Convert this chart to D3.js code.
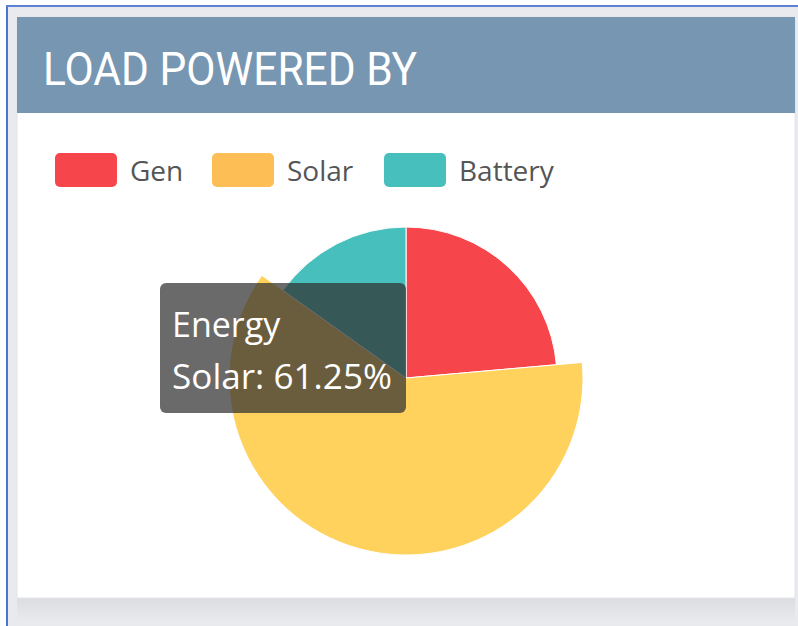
<!DOCTYPE html>
<html>
<head>
<meta charset="utf-8">
<script src="https://cdn.jsdelivr.net/npm/d3@7/dist/d3.min.js"></script>
<style>
  html, body { margin: 0; padding: 0; background: #ffffff; }
  svg { display: block; }
</style>
</head>
<body>
<svg id="chart" width="798" height="626"></svg>
<script>
// Share of load supplied by each source (percent)
const categories = ["Gen", "Solar", "Battery"];
const shares = [23.6, 61.25, 15.15];
const sliceColors = ["#f7464b", "#ffd15d", "#47bfbc"];
const legendColors = ["#f7464b", "#fcbe55", "#47bfbc"];
const panelTitle = "LOAD POWERED BY";
const datasetLabel = "Energy";
const activeIndex = 1; // slice under the pointer

const svg = d3.select("#chart");
const W = 798, H = 626;

// page frame
svg.append("rect").attr("x", 0).attr("y", 0).attr("width", W).attr("height", H).attr("fill", "#ffffff");
svg.append("rect").attr("x", 7).attr("y", 6).attr("width", W - 7).attr("height", H - 6).attr("fill", "#e9eaee");
svg.append("rect").attr("x", 6).attr("y", 5).attr("width", 2).attr("height", H - 5).attr("fill", "#4a73d2");
svg.append("rect").attr("x", 6).attr("y", 5).attr("width", W - 6).attr("height", 2).attr("fill", "#5b80d6");

// card shadow
const defs = svg.append("defs");
const sg = defs.append("linearGradient").attr("id", "shadow").attr("x1", 0).attr("y1", 0).attr("x2", 0).attr("y2", 1);
sg.append("stop").attr("offset", "0%").attr("stop-color", "#dcdde1");
sg.append("stop").attr("offset", "100%").attr("stop-color", "#e9eaee");
svg.append("rect").attr("x", 17).attr("y", 598).attr("width", 778).attr("height", 24).attr("fill", "url(#shadow)");

// card
const card = { x: 17, y: 17, w: 778, h: 581, head: 96 };
svg.append("rect").attr("x", card.x).attr("y", card.y).attr("width", card.w).attr("height", card.h)
  .attr("fill", "#ffffff").attr("stroke", "#e2e4e8").attr("stroke-width", 1);
svg.append("rect").attr("x", card.x).attr("y", card.y).attr("width", card.w).attr("height", card.head)
  .attr("fill", "#7796b1");
svg.append("text").attr("x", 43).attr("y", 85)
  .attr("font-family", "Roboto, 'DejaVu Sans', sans-serif").attr("font-size", 46)
  .attr("textLength", 374).attr("lengthAdjust", "spacingAndGlyphs")
  .attr("fill", "#ffffff").text(panelTitle);

// legend
const legendX = [55, 212, 384];
const legend = svg.append("g");
categories.forEach((c, i) => {
  const g = legend.append("g").attr("transform", `translate(${legendX[i]},153)`);
  g.append("rect").attr("width", 62).attr("height", 34).attr("rx", 5).attr("fill", legendColors[i]);
  g.append("text").attr("x", 75).attr("y", 28)
    .attr("font-family", "'Open Sans', 'Noto Sans', sans-serif").attr("font-size", 28)
    .attr("fill", "#555555").text(c);
});

// pie
const cx = 406, cy = 378, r = 151, rActive = 177;
const pie = d3.pie().sort(null).value(d => d)(shares);
const arc = d3.arc().innerRadius(0);
const pieG = svg.append("g").attr("transform", `translate(${cx},${cy})`);
pieG.selectAll("path").data(pie).join("path")
  .attr("d", (d, i) => arc.outerRadius(i === activeIndex ? rActive : r)(d))
  .attr("fill", (d, i) => sliceColors[i])
  .attr("stroke", "#ffffff").attr("stroke-width", 1);

// tooltip
const tip = svg.append("g").attr("transform", "translate(160,283)");
tip.append("rect").attr("width", 246).attr("height", 130).attr("rx", 6)
  .attr("fill", "rgba(48,48,48,0.72)");
tip.append("text").attr("x", 12).attr("y", 54)
  .attr("font-family", "'Open Sans', 'Noto Sans', sans-serif").attr("font-size", 34)
  .attr("fill", "#ffffff").text(datasetLabel);
tip.append("text").attr("x", 12).attr("y", 106)
  .attr("font-family", "'Open Sans', 'Noto Sans', sans-serif").attr("font-size", 34)
  .attr("textLength", 220).attr("lengthAdjust", "spacingAndGlyphs")
  .attr("fill", "#ffffff").text(`${categories[activeIndex]}: ${shares[activeIndex]}%`);
</script>
</body>
</html>
